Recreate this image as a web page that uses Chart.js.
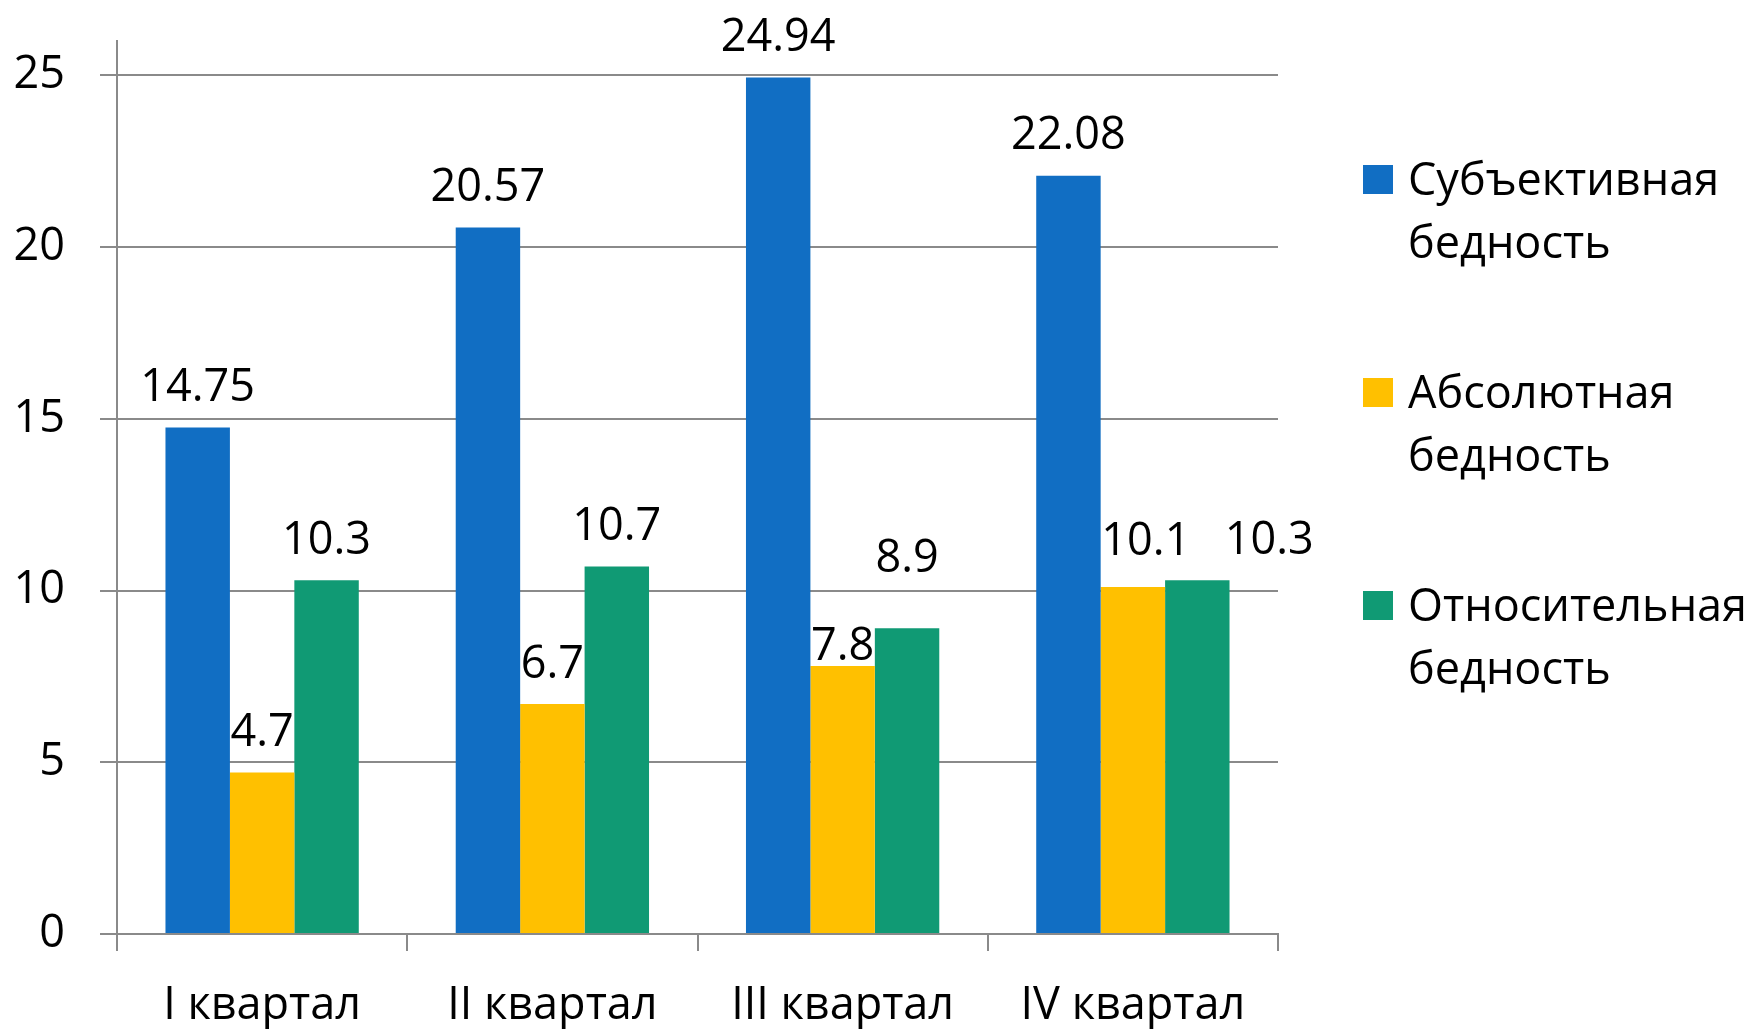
<!DOCTYPE html>
<html>
<head>
<meta charset="utf-8">
<script src="https://cdn.jsdelivr.net/npm/chart.js@4/dist/chart.umd.min.js"></script>
<style>
  html, body { margin: 0; padding: 0; background: #ffffff; }
  #wrap { width: 1753px; height: 1029px; }
</style>
</head>
<body>
<div id="wrap"><canvas id="c" width="1753" height="1029"></canvas></div>
<script>
// ---- data ----
const categories = ["I квартал", "II квартал", "III квартал", "IV квартал"];
const seriesNames = ["Субъективная бедность", "Абсолютная бедность", "Относительная бедность"];
const subjective = [14.75, 20.57, 24.94, 22.08];
const absolute = [4.7, 6.7, 7.8, 10.1];
const relative = [10.3, 10.7, 8.9, 10.3];
const yTicks = [0, 5, 10, 15, 20, 25];

// ---- style ----
const COLORS = ["#116EC3", "#FFC000", "#109A74"];
const GRID = "#8a8a8a";
const FONT = "'Open Sans', 'Noto Sans', sans-serif";
const FS = 45;
// label nudges [dx, dy] per series / category (placement only)
const LABEL_NUDGE = [
  [[0,0],[0,0],[0,0],[0,0]],
  [[0,0],[0,0],[0,20],[13,-6]],
  [[0,0],[0,0],[0,-30],[72,0]]
];

const valueLabels = {
  id: 'valueLabels',
  afterDatasetsDraw(chart) {
    const ctx = chart.ctx;
    ctx.save();
    ctx.font = FS + "px " + FONT;
    ctx.fillStyle = "#000";
    ctx.textAlign = "center";
    ctx.textBaseline = "middle";
    chart.data.datasets.forEach((ds, di) => {
      const meta = chart.getDatasetMeta(di);
      meta.data.forEach((el, i) => {
        const n = LABEL_NUDGE[di][i];
        ctx.fillText(String(ds.data[i]), el.x + n[0], el.y - 39 + n[1]);
      });
    });
    ctx.restore();
  }
};

const sideLegend = {
  id: 'sideLegend',
  afterDraw(chart) {
    const ctx = chart.ctx;
    ctx.save();
    ctx.font = FS + "px " + FONT;
    ctx.fillStyle = "#000";
    ctx.textAlign = "left";
    ctx.textBaseline = "alphabetic";
    const x0 = 1363, tx = 1408, box = 29, firstBase = 195, itemGap = 213, lineH = 63;
    chart.data.datasets.forEach((ds, di) => {
      const base = firstBase + di * itemGap;
      ctx.fillStyle = ds.backgroundColor;
      ctx.fillRect(x0, base - 30, box + 1, box);
      ctx.fillStyle = "#000";
      ds.label.split(" ").forEach((line, li) => {
        ctx.fillText(line, tx, base + li * lineH);
      });
    });
    ctx.restore();
  }
};

const datasets = [subjective, absolute, relative].map((arr, k) => ({
  label: seriesNames[k],
  data: arr,
  backgroundColor: COLORS[k],
  borderWidth: 0,
  categoryPercentage: 0.666,
  barPercentage: 1.0
}));

new Chart(document.getElementById('c'), {
  type: 'bar',
  data: { labels: categories, datasets },
  plugins: [valueLabels, sideLegend],
  options: {
    responsive: false,
    animation: false,
    devicePixelRatio: 1,
    layout: { padding: { top: 41, right: 475, left: 0, bottom: 0 } },
    plugins: { legend: { display: false }, tooltip: { enabled: false } },
    scales: {
      x: {
        offset: true,
        grid: { drawOnChartArea: false, drawTicks: true, tickLength: 17, color: GRID, lineWidth: 2, offset: true },
        border: { color: GRID, width: 2 },
        ticks: { color: "#000", font: { family: FONT, size: FS }, padding: 28, maxRotation: 0 },
        afterFit(s) { s.height = 95; s.paddingLeft = 0; s.paddingRight = 0; }
      },
      y: {
        min: 0, max: 26, bounds: 'data',
        afterBuildTicks(s) { s.ticks = yTicks.map(v => ({ value: v })); },
        grid: { color: GRID, lineWidth: 2, tickLength: 17 },
        border: { color: GRID, width: 2 },
        ticks: { color: "#000", font: { family: FONT, size: FS }, padding: 35, includeBounds: false },
        afterFit(s) { s.width = 117; s.paddingTop = 0; s.paddingBottom = 0; }
      }
    }
  }
});
</script>
</body>
</html>
